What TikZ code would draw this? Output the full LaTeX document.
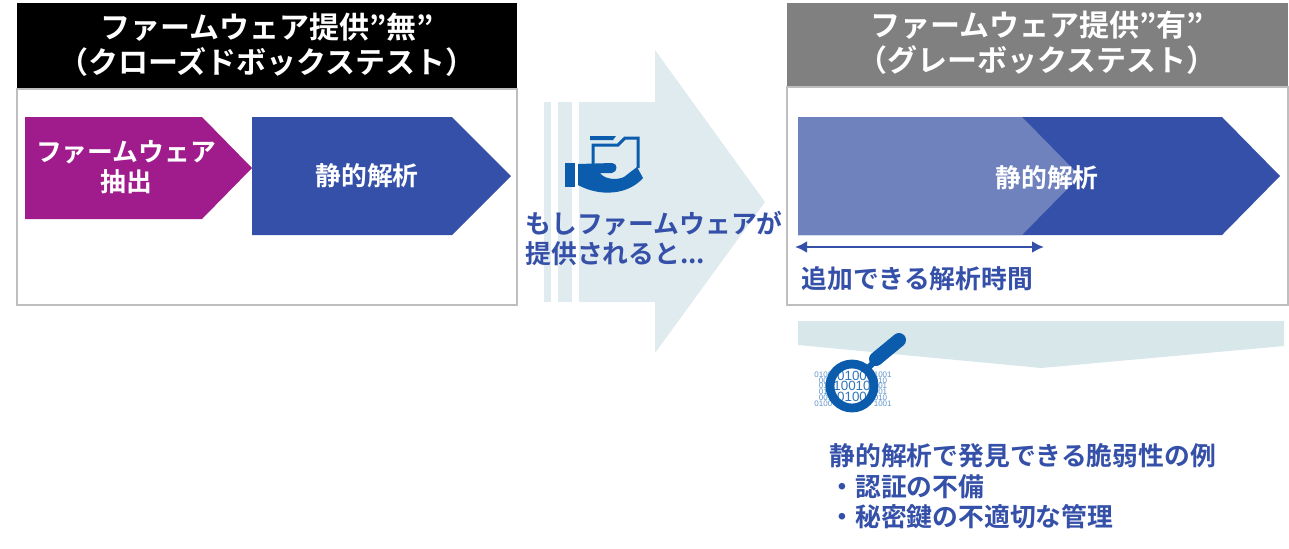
\documentclass[tikz,border=0pt]{standalone}
\usepackage{fontspec}
\usetikzlibrary{arrows.meta}
\setmainfont{Noto Sans CJK JP}[BoldFont={Noto Sans CJK JP Bold}]
\newfontfamily\binfont{Liberation Sans}
\definecolor{cblue}{HTML}{3550A8}
\definecolor{clight}{HTML}{6F82BE}
\definecolor{cpurple}{HTML}{A01C8C}
\definecolor{cteal}{HTML}{DFEBEE}
\definecolor{cband}{HTML}{D8E7EA}
\definecolor{cicon}{HTML}{0B5CAD}
\definecolor{cframe}{HTML}{BFBFBF}
\tikzset{
 hdr/.style={font=\fontsize{15pt}{17.5pt}\selectfont\bfseries,text=white,align=center},
 lbl/.style={font=\fontsize{12.9pt}{15pt}\selectfont\bfseries,text=cblue,align=left},
 inner/.style={font=\fontsize{12.9pt}{15pt}\selectfont\bfseries,text=white,align=center},
 frame/.style={draw=cframe,line width=1pt,fill=white},
 small/.style={font=\binfont\fontsize{4pt}{2.85pt}\selectfont,text=cicon!65!white,inner sep=0pt},
 big/.style={font=\binfont\fontsize{6.7pt}{5.25pt}\selectfont,text=cicon!85!white,inner sep=0pt,align=center},
}
\begin{document}
\begin{tikzpicture}[x=0.5pt,y=-0.5pt]
\useasboundingbox (0,0) rectangle (1289,548);
% big arrow
\fill[cteal] (579,102) -- (655,102) -- (655,50) -- (765,202) -- (655,353) -- (655,302) -- (579,302) -- cycle;
\fill[cteal] (544,102) rectangle (551,302);
\fill[cteal] (558,102) rectangle (572,302);
% left
\fill[black] (17,3) rectangle (517,88);
\node[hdr] (hl) at (267,45) {ファームウェア提供”無”\\（クローズドボックステスト）};
\draw[frame] (17,89) rectangle (517,305);
\fill[cpurple] (25,117) -- (202,117) -- (252,168) -- (202,219) -- (25,219) -- cycle;
\node[inner] (ext) at (126,167) {ファームウェア\\抽出};
\fill[cblue] (252,117) -- (452,117) -- (511,176) -- (452,235) -- (252,235) -- cycle;
\node[inner] (sa) at (367,176) {静的解析};
% right
\fill[black!50] (787,3) rectangle (1288,86);
\node[hdr] (hr) at (1037,43) {ファームウェア提供”有”\\（グレーボックステスト）};
\draw[frame] (787,87) rectangle (1288,305);
\fill[cblue] (798,117) -- (1222,117) -- (1280,176) -- (1222,235) -- (798,235) -- cycle;
\fill[clight] (798,117) -- (1022,117) -- (1080,176) -- (1022,235) -- (798,235) -- cycle;
\node[inner] (sb) at (1047,178) {静的解析};
\coordinate (da) at (795,247);
\coordinate (db) at (1044,247);
\draw[cblue,line width=1.2pt,{Latex[length=6pt,width=6pt]}-{Latex[length=6pt,width=6pt]}] (da) -- (db);
\node[lbl,anchor=west,inner sep=0pt] (add) at (801,279) {追加できる解析時間};
% middle label
\node[lbl,anchor=north west,inner sep=0pt] (mid) at (525,210.5) {もしファームウェアが\\提供されると...};
% hand icon
\fill[cicon] (590,136) -- (616,136) -- (613,140) -- (590,140) -- cycle;
\draw[cicon,line width=1.5pt] (593,164) -- (593,145) -- (618,145) -- (625,138) -- (638,138) -- (638,168);
\fill[cicon] (565,163) rectangle (575,187);
\fill[cicon] (578,164) -- (612,163) .. controls (618,163) and (618,172) .. (612,173) -- (600,173) .. controls (605,180) and (618,180) .. (624,177) -- (637,167) -- (643,178) .. controls (628,195) and (600,197) .. (578,185) -- cycle;
% band
\fill[cband] (798,321) -- (1284,321) -- (1284,346) -- (1041,368) -- (798,345) -- cycle;
% magnifier
\node[small,anchor=west,align=right] (binl) at (814,389) {0100\\001\\010\\010\\001\\0100};
\node[small,anchor=east,align=left] (binr) at (892,389) {1001\\010\\001\\001\\010\\1001};
\fill[white] (852,386) circle (26);
\node[big] (binc) at (852,386) {0100\\10010\\0100};
\draw[cicon,line width=4.4pt] (852,386) circle (22);
\draw[cicon,line width=3pt] (868,368) -- (877,359);
\draw[cicon,line width=7pt,line cap=round] (876,359) -- (899,340);
% bottom text
\node[lbl,anchor=north west,inner sep=0pt,font=\fontsize{12.9pt}{15.25pt}\selectfont\bfseries] (vul) at (829,443) {静的解析で発見できる脆弱性の例\\ ・認証の不備\\ ・秘密鍵の不適切な管理};
\end{tikzpicture}
\end{document}
